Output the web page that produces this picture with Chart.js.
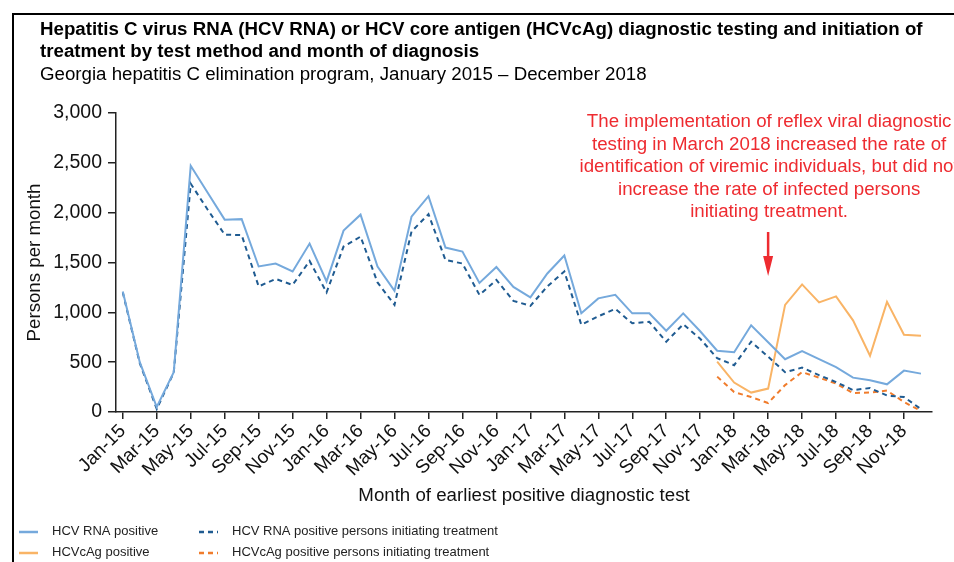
<!DOCTYPE html>
<html>
<head>
<meta charset="utf-8">
<script src="https://cdn.jsdelivr.net/npm/chart.js@4"></script>
<style>
    html, body { margin: 0; padding: 0; background: #fff; }
    #wrap { width: 954px; height: 562px; position: relative; }
</style>
</head>
<body>
<div id="wrap"><canvas id="hcvChart"></canvas></div>
<script>
// --- 資料 ---
const months = [
    'Jan-15', 'Feb-15', 'Mar-15', 'Apr-15', 'May-15', 'Jun-15', 'Jul-15', 'Aug-15', 'Sep-15', 'Oct-15', 'Nov-15', 'Dec-15',
    'Jan-16', 'Feb-16', 'Mar-16', 'Apr-16', 'May-16', 'Jun-16', 'Jul-16', 'Aug-16', 'Sep-16', 'Oct-16', 'Nov-16', 'Dec-16',
    'Jan-17', 'Feb-17', 'Mar-17', 'Apr-17', 'May-17', 'Jun-17', 'Jul-17', 'Aug-17', 'Sep-17', 'Oct-17', 'Nov-17', 'Dec-17',
    'Jan-18', 'Feb-18', 'Mar-18', 'Apr-18', 'May-18', 'Jun-18', 'Jul-18', 'Aug-18', 'Sep-18', 'Oct-18', 'Nov-18', 'Dec-18'
];
const rnaPositive = [
    1210, 500, 50, 400, 2470, 2200, 1930, 1935, 1460, 1490, 1410, 1690,
    1310, 1820, 1980, 1460, 1215, 1960, 2165, 1650, 1610, 1295, 1455, 1255,
    1150, 1390, 1570, 990, 1140, 1175, 990, 990, 815, 990, 810, 615,
    600, 870, 700, 530, 610, 530, 450, 345, 318, 278, 415, 385
];
const rnaTreated = [
    1200, 490, 30, 395, 2290, 2030, 1780, 1775, 1260, 1335, 1275, 1515,
    1200, 1660, 1760, 1300, 1075, 1810, 1985, 1525, 1490, 1175, 1325, 1115,
    1065, 1260, 1410, 875, 960, 1035, 890, 905, 705, 880, 735, 540,
    470, 705, 555, 400, 445, 370, 300, 220, 240, 165, 150, 30
];
const cagPositive = [
    null, null, null, null, null, null, null, null, null, null, null, null,
    null, null, null, null, null, null, null, null, null, null, null, null,
    null, null, null, null, null, null, null, null, null, null, null, 505,
    295, 195, 235, 1075, 1280, 1100, 1160, 920, 565, 1105, 775, 765
];
const cagTreated = [
    null, null, null, null, null, null, null, null, null, null, null, null,
    null, null, null, null, null, null, null, null, null, null, null, null,
    null, null, null, null, null, null, null, null, null, null, null, 355,
    200, 150, 90, 270, 400, 345, 285, 190, 195, 215, 100, 10
];
const yTicks = [0, 500, 1000, 1500, 2000, 2500, 3000];

const FONT = "'Liberation Sans', Arial, sans-serif";
const toPoints = arr => arr.map((v, i) => ({ x: i, y: v }));

// 標題、註解箭頭、外框與 2x2 圖例
const decorPlugin = {
    id: 'decor',
    afterDraw(chart) {
        const ctx = chart.ctx;
        ctx.save();

        // 外框 (左、上)
        ctx.strokeStyle = '#000';
        ctx.lineWidth = 2;
        ctx.beginPath();
        ctx.moveTo(13, 562);
        ctx.lineTo(13, 14);
        ctx.lineTo(954, 14);
        ctx.stroke();

        // 標題
        ctx.fillStyle = '#000';
        ctx.textBaseline = 'middle';
        ctx.textAlign = 'left';
        ctx.font = 'bold 18.7px ' + FONT;
        ctx.fillText('Hepatitis C virus RNA (HCV RNA) or HCV core antigen (HCVcAg) diagnostic testing and initiation of', 40, 30);
        ctx.fillText('treatment by test method and month of diagnosis', 40, 52);
        ctx.font = '18.7px ' + FONT;
        ctx.fillText('Georgia hepatitis C elimination program, January 2015 \u2013 December 2018', 40, 75);

        // 註解 (置中於 Mar-18)
        const ax = chart.scales.x.getPixelForValue(38);
        const note = [
            'The implementation of reflex viral diagnostic',
            'testing in March 2018 increased the rate of',
            'identification of viremic individuals, but did not',
            'increase the rate of infected persons',
            'initiating treatment.'
        ];
        ctx.fillStyle = '#ee2b30';
        ctx.textAlign = 'center';
        ctx.font = '18.7px ' + FONT;
        note.forEach((t, i) => ctx.fillText(t, ax + 1, 122 + i * 22.5));

        // 箭頭
        ctx.strokeStyle = '#ee2b30';
        ctx.lineWidth = 2.5;
        ctx.beginPath();
        ctx.moveTo(ax, 232);
        ctx.lineTo(ax, 258);
        ctx.stroke();
        ctx.beginPath();
        ctx.moveTo(ax - 5, 256);
        ctx.lineTo(ax + 5, 256);
        ctx.lineTo(ax, 276);
        ctx.closePath();
        ctx.fill();

        // 圖例 (兩欄兩列)
        const cols = [19, 199];
        const rows = [532, 553];
        ctx.font = '13px ' + FONT;
        ctx.textAlign = 'left';
        chart.data.datasets.forEach((ds, k) => {
            const x = cols[Math.floor(k / 2)];
            const y = rows[k % 2];
            ctx.strokeStyle = ds.borderColor;
            ctx.lineWidth = 2.5;
            ctx.setLineDash(ds.borderDash || []);
            ctx.beginPath();
            ctx.moveTo(x, y);
            ctx.lineTo(x + 19, y);
            ctx.stroke();
            ctx.setLineDash([]);
            ctx.fillStyle = '#222';
            ctx.fillText(ds.label, x + 33, y - 1);
        });
        ctx.restore();
    }
};

new Chart(document.getElementById('hcvChart').getContext('2d'), {
    type: 'line',
    data: {
        datasets: [
            { label: 'HCV RNA positive', data: toPoints(rnaPositive), borderColor: '#75a9dc', borderWidth: 2 },
            { label: 'HCVcAg positive', data: toPoints(cagPositive), borderColor: '#f9b466', borderWidth: 2 },
            { label: 'HCV RNA positive persons initiating treatment', data: toPoints(rnaTreated), borderColor: '#1f5b91', borderWidth: 2, borderDash: [5, 4] },
            { label: 'HCVcAg positive persons initiating treatment', data: toPoints(cagTreated), borderColor: '#f07c2c', borderWidth: 2, borderDash: [5, 4] }
        ]
    },
    options: {
        responsive: true,
        maintainAspectRatio: false,
        animation: false,
        layout: { padding: { top: 113, right: 22, bottom: 50, left: 0 } },
        elements: { point: { radius: 0 }, line: { tension: 0 } },
        plugins: {
            legend: { display: false },
            tooltip: { enabled: false }
        },
        scales: {
            x: {
                type: 'linear',
                min: -0.4,
                max: 47.65,
                afterBuildTicks: scale => {
                    scale.ticks = months.map((m, i) => ({ value: i })).filter(t => t.value % 2 === 0);
                },
                afterFit: scale => { scale.height = 100; },
                ticks: {
                    autoSkip: false,
                    maxRotation: 45,
                    minRotation: 45,
                    padding: 1,
                    color: '#111',
                    font: { size: 19, family: FONT },
                    callback: v => months[v]
                },
                grid: { drawOnChartArea: false, drawTicks: true, tickLength: 7, color: '#222', lineWidth: 1.5 },
                border: { display: true, color: '#222', width: 1.5 },
                title: {
                    display: true,
                    text: 'Month of earliest positive diagnostic test',
                    color: '#111',
                    font: { size: 18.7, family: FONT },
                    padding: { top: 0, bottom: 5 }
                }
            },
            y: {
                min: 0,
                max: 3000,
                afterBuildTicks: scale => { scale.ticks = yTicks.map(v => ({ value: v })); },
                afterFit: scale => { scale.width = 116; },
                ticks: {
                    color: '#111',
                    padding: 6,
                    font: { size: 19.5, family: FONT }
                },
                grid: { drawOnChartArea: false, drawTicks: true, tickLength: 8, color: '#222', lineWidth: 1.5 },
                border: { display: true, color: '#222', width: 1.5 },
                title: {
                    display: true,
                    text: 'Persons per month',
                    color: '#111',
                    font: { size: 18.7, family: FONT },
                    padding: { top: 24, bottom: 0 }
                }
            }
        }
    },
    plugins: [decorPlugin]
});
</script>
</body>
</html>
